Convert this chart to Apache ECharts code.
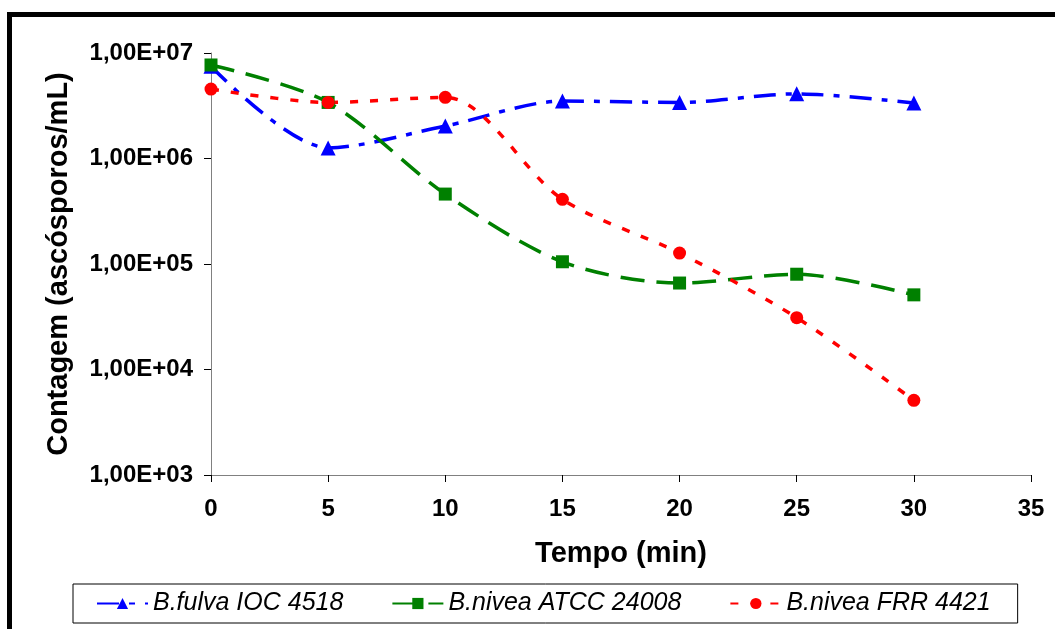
<!DOCTYPE html>
<html><head><meta charset="utf-8">
<script src="https://cdn.jsdelivr.net/npm/echarts@6/dist/echarts.min.js"></script>
<style>html,body{margin:0;padding:0;background:#fff;}#c{width:1055px;height:629px;}</style>
</head><body><div id="c"></div>
<script>
const tempo = [0, 5, 10, 15, 20, 25, 30];
const fulva = [7.5e6, 1.26e6, 2.03e6, 3.5e6, 3.4e6, 4.1e6, 3.35e6];
const niveaATCC = [7.7e6, 3.4e6, 4.6e5, 1.05e5, 6.6e4, 8.0e4, 5.1e4];
const niveaFRR = [4.55e6, 3.4e6, 3.8e6, 4.1e5, 1.27e5, 3.1e4, 5.1e3];
const seriesNames = ['B.fulva IOC 4518', 'B.nivea ATCC 24008', 'B.nivea FRR 4421'];

const chart = echarts.init(document.getElementById('c'));
const F = 'Liberation Sans, Arial, sans-serif';
function pairs(arr){ return tempo.map((t,i)=>[t, arr[i]]); }
chart.setOption({
  animation: false,
  backgroundColor: '#fff',
  graphic: [{type:'rect', shape:{x:9.5, y:14.5, width:1100, height:700}, style:{fill:'none', stroke:'#000', lineWidth:5}, silent:true}],
  grid: {left: 211, right: 24, top: 53, bottom: 154},
  legend: {
    left: 73, top: 584,
    padding: [7, 27, 7, 23],
    borderColor: '#000', borderWidth: 1,
    itemWidth: 51, itemHeight: 14, itemGap: 48,
    textStyle: {fontFamily: F, fontSize: 25, fontStyle: 'italic', color: '#000'},
    data: seriesNames
  },
  xAxis: {
    type: 'value', min: 0, max: 35, interval: 5,
    name: 'Tempo (min)', nameLocation: 'middle', nameGap: 64,
    nameTextStyle: {fontFamily: F, fontSize: 29, fontWeight: 'bold', color: '#000'},
    axisLine: {lineStyle: {color: '#808080', width: 1}},
    axisTick: {length: 7, lineStyle: {color: '#000'}},
    axisLabel: {fontFamily: F, fontSize: 24, fontWeight: 'bold', color: '#000', margin: 22},
    splitLine: {show: false}
  },
  yAxis: {
    type: 'log', logBase: 10, min: 1e3, max: 1e7,
    name: 'Contagem (ascósporos/mL)', nameLocation: 'middle', nameGap: 138,
    nameTextStyle: {fontFamily: F, fontSize: 29, fontWeight: 'bold', color: '#000'},
    axisLine: {show: true, lineStyle: {color: '#808080', width: 1}},
    axisTick: {show: true, length: 7, lineStyle: {color: '#000'}},
    axisLabel: {fontFamily: F, fontSize: 24, fontWeight: 'bold', color: '#000', margin: 18,
      formatter: v => { const e = Math.round(Math.log10(v)); return '1,00E+' + (e < 10 ? '0' + e : e); }},
    splitLine: {show: false}
  },
  series: [
    {name: seriesNames[0], type: 'line', data: pairs(fulva), smooth: 0.3,
     symbol: 'triangle', symbolSize: 15,
     itemStyle: {color: '#0000ff'},
     lineStyle: {color: '#0000ff', width: 3.5, type: [22, 10, 6, 10]}},
    {name: seriesNames[1], type: 'line', data: pairs(niveaATCC), smooth: 0.3,
     symbol: 'rect', symbolSize: 13,
     itemStyle: {color: '#008000'},
     lineStyle: {color: '#008000', width: 3.5, type: [24, 12]}},
    {name: seriesNames[2], type: 'line', data: pairs(niveaFRR), smooth: 0.3,
     symbol: 'circle', symbolSize: 13,
     itemStyle: {color: '#ff0000'},
     lineStyle: {color: '#ff0000', width: 3.5, type: [8, 12]}}
  ]
});
</script></body></html>
